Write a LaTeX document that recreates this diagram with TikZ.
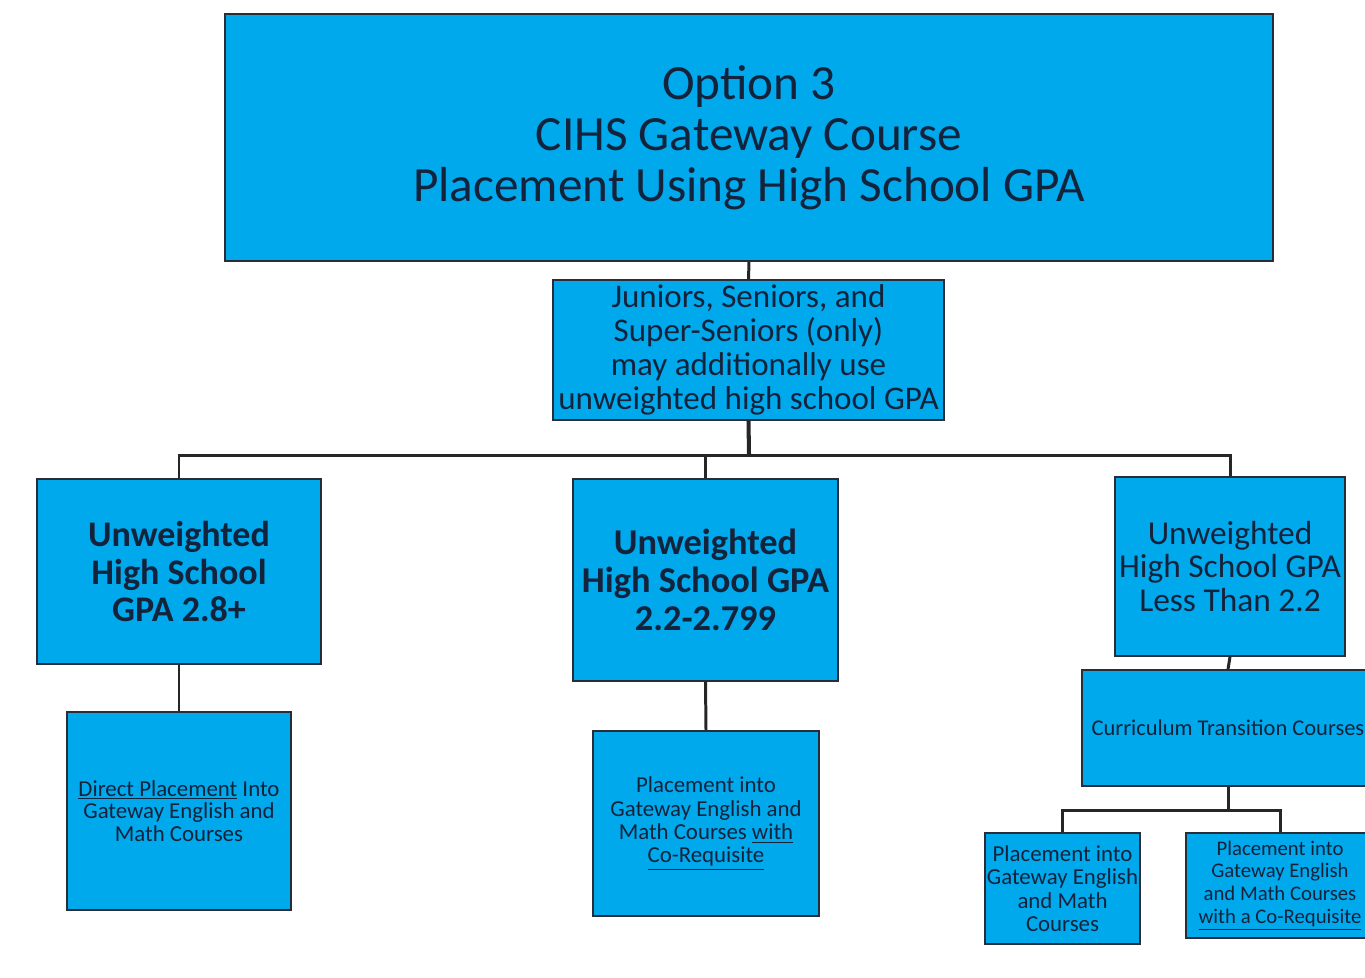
\documentclass[tikz,border=0pt]{standalone}
\usepackage{fontspec}
\setmainfont{Carlito}
\usetikzlibrary{positioning}
\definecolor{boxblue}{RGB}{0,168,236}
\definecolor{boxtext}{RGB}{20,35,60}
\definecolor{boxline}{RGB}{40,45,55}

\begin{document}
\begin{tikzpicture}[x=0.02cm, y=-0.02cm,
                    gpabox/.style={rectangle, draw=boxline, line width=0.8pt, fill=boxblue,
                                   text=boxtext, align=center, inner sep=1pt},
                    link/.style={draw=black!85, line width=1.7pt},
                    trunk/.style={draw=black!85, line width=2.3pt}]

    \useasboundingbox (0,0) rectangle (1365,977);
    \clip (0,0) rectangle (1365,977);

    \node[gpabox, minimum width=20.96cm, minimum height=4.94cm,
          font=\fontsize{28}{29}\selectfont] (opt) at (749,137.5)
          {Option 3\\CIHS Gateway Course\\Placement Using High School GPA};

    \node[gpabox, minimum width=7.82cm, minimum height=2.8cm,
          font=\fontsize{18.8}{19.3}\selectfont] (jr) at (748.5,350)
          {Juniors, Seniors, and\\Super-Seniors (only)\\may additionally use\\unweighted high school GPA};

    \node[gpabox, minimum width=5.68cm, minimum height=3.7cm,
          font=\fontsize{20.5}{21.5}\selectfont\bfseries] (high) at (179,571.5)
          {Unweighted\\High School\\GPA 2.8+};
    \node[gpabox, minimum width=5.3cm, minimum height=4.04cm,
          font=\fontsize{20.7}{21.5}\selectfont\bfseries] (mid) at (705.5,580)
          {Unweighted\\High School GPA\\2.2-2.799};
    \node[gpabox, minimum width=4.6cm, minimum height=3.58cm,
          font=\fontsize{19}{19.3}\selectfont] (low) at (1230,566.5)
          {Unweighted\\High School GPA\\Less Than 2.2};

    \node[gpabox, minimum width=4.48cm, minimum height=3.96cm,
          font=\fontsize{13}{13}\selectfont] (highplace) at (179,811)
          {\underline{Direct Placement} Into\\Gateway English and\\Math Courses};
    \node[gpabox, minimum width=4.52cm, minimum height=3.7cm,
          font=\fontsize{13}{13.3}\selectfont] (midplace) at (706,823.5)
          {Placement into\\Gateway English and\\Math Courses \underline{with}\\\underline{Co-Requisite}};
    \node[gpabox, minimum width=5.84cm, minimum height=2.32cm,
          font=\fontsize{12.8}{13}\selectfont] (trans) at (1228,728)
          {Curriculum Transition Courses};

    \node[gpabox, minimum width=3.1cm, minimum height=2.22cm,
          font=\fontsize{13}{13.3}\selectfont] (lowplace) at (1062.5,888.5)
          {Placement into\\Gateway English\\and Math\\Courses};
    \node[gpabox, minimum width=3.76cm, minimum height=2.1cm,
          font=\fontsize{11.8}{13}\selectfont] (lowcoreq) at (1280,885.5)
          {Placement into\\Gateway English\\and Math Courses\\\underline{with a Co-Requisite}};

    % tree connectors
    \coordinate (bus) at (749,455);
    \coordinate (lowbus) at (1228,810);

    \draw[link] (opt.south) -- (jr.north);
    \draw[trunk] (jr.south) -- (bus);
    \draw[link] (bus) -| (high.north);
    \draw[link] (bus) -| (mid.north);
    \draw[link] (bus) -| (low.north);

    \draw[link] (high.south) -- (highplace.north);
    \draw[link] (mid.south) -- (midplace.north);
    \draw[link] (low.south) -- (trans.north);

    \draw[link] (trans.south) -- (lowbus);
    \draw[link] (lowbus) -| (lowplace.north);
    \draw[link] (lowbus) -| (lowcoreq.north);
\end{tikzpicture}
\end{document}
